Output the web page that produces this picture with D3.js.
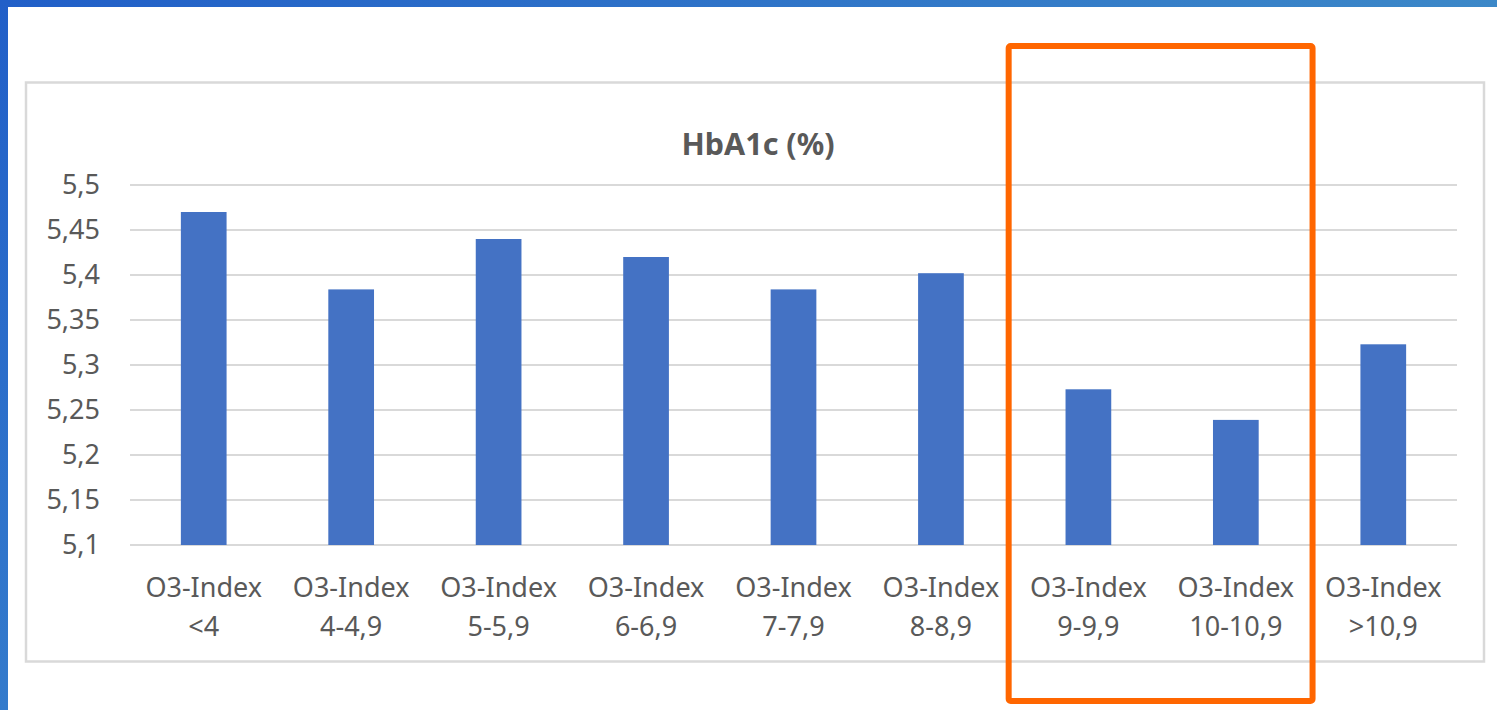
<!DOCTYPE html>
<html>
<head>
<meta charset="utf-8">
<script src="https://cdn.jsdelivr.net/npm/d3@7"></script>
<style>
  body { margin: 0; background: #fff; }
  svg text { font-family: "Noto Sans", "Open Sans", sans-serif; fill: #595959; }
</style>
</head>
<body>
<div id="chart"></div>
<script>
const categories = ["O3-Index|<4", "O3-Index|4-4,9", "O3-Index|5-5,9", "O3-Index|6-6,9", "O3-Index|7-7,9",
    "O3-Index|8-8,9", "O3-Index|9-9,9", "O3-Index|10-10,9", "O3-Index|>10,9"];
const hba1c = [5.47, 5.384, 5.44, 5.42, 5.384, 5.402, 5.273, 5.239, 5.323];
const yTicks = [5.1, 5.15, 5.2, 5.25, 5.3, 5.35, 5.4, 5.45, 5.5];
const highlighted = ["O3-Index|9-9,9", "O3-Index|10-10,9"];

const width = 1497;
const height = 710;

const svg = d3.select("#chart")
    .append("svg")
    .attr("width", width)
    .attr("height", height);

// slide background bits (blue frame top + left)
const defs = svg.append("defs");
const gTop = defs.append("linearGradient").attr("id", "gtop");
gTop.append("stop").attr("offset", "0%").attr("stop-color", "#215fc8");
gTop.append("stop").attr("offset", "100%").attr("stop-color", "#3c88c8");
const gLeft = defs.append("linearGradient").attr("id", "gleft")
    .attr("x1", 0).attr("y1", 0).attr("x2", 0).attr("y2", 1);
gLeft.append("stop").attr("offset", "0%").attr("stop-color", "#215fc8");
gLeft.append("stop").attr("offset", "100%").attr("stop-color", "#347bcc");

svg.append("rect").attr("x", 0).attr("y", 0).attr("width", width).attr("height", 7).attr("fill", "url(#gtop)");
svg.append("rect").attr("x", 0).attr("y", 0).attr("width", 8).attr("height", height).attr("fill", "url(#gleft)");

// chart area border
svg.append("rect")
    .attr("x", 26).attr("y", 82.5)
    .attr("width", 1458).attr("height", 579)
    .attr("fill", "none")
    .attr("stroke", "#d9d9d9")
    .attr("stroke-width", 2.5);

const plot = { left: 130, right: 1457, top: 185, bottom: 545 };

const x = d3.scaleBand()
    .domain(categories)
    .range([plot.left, plot.right])
    .paddingInner(0.69)
    .paddingOuter(0.345);

const y = d3.scaleLinear()
    .domain([5.1, 5.5])
    .range([plot.bottom, plot.top]);

const fmt = d => d3.format("")(d).replace(".", ",");

// gridlines
svg.append("g")
    .selectAll("line")
    .data(yTicks)
    .enter().append("line")
    .attr("x1", plot.left)
    .attr("x2", plot.right)
    .attr("y1", d => y(d))
    .attr("y2", d => y(d))
    .attr("stroke", "#d9d9d9")
    .attr("stroke-width", 2);

// y labels
const yAxis = d3.axisLeft(y).tickValues(yTicks).tickFormat(fmt).tickSize(0).tickPadding(30);
const yg = svg.append("g")
    .attr("transform", `translate(${plot.left},0)`)
    .call(yAxis);
yg.select(".domain").remove();
yg.selectAll("text")
    .attr("font-size", 27)
    .attr("fill", "#595959")
    .style("font-family", "'Noto Sans', sans-serif");

// bars
svg.append("g")
    .selectAll("rect")
    .data(hba1c)
    .enter().append("rect")
    .attr("x", (d, i) => x(categories[i]))
    .attr("y", d => y(d))
    .attr("width", x.bandwidth())
    .attr("height", d => y(5.1) - y(d))
    .attr("fill", "#4472c4");

// x labels, two lines each
const xl = svg.append("g")
    .selectAll("text")
    .data(categories)
    .enter().append("text")
    .attr("text-anchor", "middle")
    .attr("font-size", 27)
    .attr("x", d => x(d) + x.bandwidth() / 2);
xl.append("tspan")
    .attr("x", d => x(d) + x.bandwidth() / 2)
    .attr("y", 597)
    .text(d => d.split("|")[0]);
xl.append("tspan")
    .attr("x", d => x(d) + x.bandwidth() / 2)
    .attr("y", 636)
    .text(d => d.split("|")[1]);

// title
svg.append("text")
    .attr("x", 758)
    .attr("y", 155)
    .attr("text-anchor", "middle")
    .attr("font-size", 30.5)
    .attr("font-weight", "bold")
    .text("HbA1c (%)");

// orange highlight around the two groups
const gap = (x.step() - x.bandwidth()) / 2;
const hx0 = x(highlighted[0]) - gap - 6;
const hx1 = x(highlighted[1]) + x.bandwidth() + gap + 3;
svg.append("rect")
    .attr("x", hx0)
    .attr("y", 46)
    .attr("width", hx1 - hx0)
    .attr("height", 655)
    .attr("rx", 2)
    .attr("fill", "none")
    .attr("stroke", "#ff6600")
    .attr("stroke-width", 6);
</script>
</body>
</html>
